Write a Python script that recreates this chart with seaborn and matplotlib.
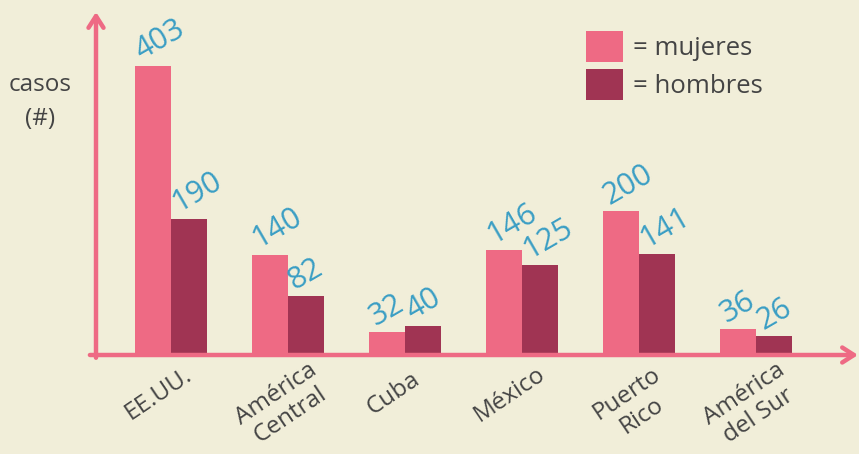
import matplotlib
matplotlib.use("Agg")
import matplotlib.pyplot as plt
import matplotlib.transforms as mtransforms
import seaborn as sns
import pandas as pd

regions = ["EE.UU.", "América\nCentral", "Cuba", "México", "Puerto\nRico", "América\ndel Sur"]
mujeres = [403, 140, 32, 146, 200, 36]
hombres = [190, 82, 40, 125, 141, 26]
series = ["mujeres", "hombres"]
legend_labels = ["= mujeres", "= hombres"]

BG = "#f1eed9"
PINK = "#ee6a84"
DARK = "#a03453"
TEXT = "#444444"
BLUE = "#3a9ec4"

df = pd.DataFrame({
    "region": regions * 2,
    "casos": mujeres + hombres,
    "sexo": [series[0]] * len(regions) + [series[1]] * len(regions),
})

sns.set_theme(style="white")
plt.rcParams["font.family"] = ["Open Sans", "DejaVu Sans"]

fig = plt.figure(figsize=(8.59, 4.54), dpi=100, facecolor=BG)
ax = fig.add_axes([96 / 859, 1 - 355 / 454, (858 - 96) / 859, (355 - 12) / 454])
ax.set_facecolor(BG)

sns.barplot(data=df, x="region", y="casos", hue="sexo", hue_order=series,
            palette=[PINK, DARK], width=0.62, ax=ax, legend=False,
            saturation=1, linewidth=0)

ax.set_xlim(-0.64, 5.87)
ax.set_ylim(0, 478)
for s in ax.spines.values():
    s.set_visible(False)
ax.set_yticks([])
ax.set_xlabel("")
ax.set_ylabel("")
ax.set_xticklabels([])
ax.tick_params(axis="x", length=0)

# category labels, rotated
blend = mtransforms.blended_transform_factory(ax.transData, ax.transAxes)
for i, name in enumerate(regions):
    ax.text(i - 0.16, -0.085, name, transform=blend, rotation=34,
            rotation_mode="anchor", ha="center", va="top", fontsize=17.5,
            color=TEXT, multialignment="center", linespacing=1.1)

# value labels
for cont in ax.containers:
    for p in cont:
        h = p.get_height()
        ax.annotate(f"{int(round(h))}", xy=(p.get_x(), h), xytext=(5, 4.5),
                    textcoords="offset points", rotation=30, rotation_mode="anchor",
                    ha="left", va="baseline", fontsize=22, color=BLUE)

# axes arrows
arrow_kw = dict(arrowstyle="->,head_length=0.7,head_width=0.45", lw=3.2, color=PINK,
                shrinkA=0, shrinkB=0)
ax.annotate("", xy=(1.0, 0), xytext=(-0.008, 0), xycoords="axes fraction",
            arrowprops=arrow_kw, annotation_clip=False)
ax.annotate("", xy=(0, 1.0), xytext=(0, -0.008), xycoords="axes fraction",
            arrowprops=arrow_kw, annotation_clip=False)

fig.text(40 / 859, 1 - 102 / 454, "casos\n(#)", ha="center", va="center",
         fontsize=17.5, color=TEXT, linespacing=1.6)

handles = [ax.containers[0].patches[0], ax.containers[1].patches[0]]
leg = fig.legend(handles, legend_labels, loc="upper left",
                 bbox_to_anchor=(586 / 859, 1 - 31 / 454), frameon=False,
                 fontsize=18.5, handlelength=1.44, handleheight=1.45,
                 handletextpad=0.4, labelspacing=0.3, borderpad=0, borderaxespad=0)
for t in leg.get_texts():
    t.set_color(TEXT)

fig.savefig("out.png", dpi=100, facecolor=BG)
